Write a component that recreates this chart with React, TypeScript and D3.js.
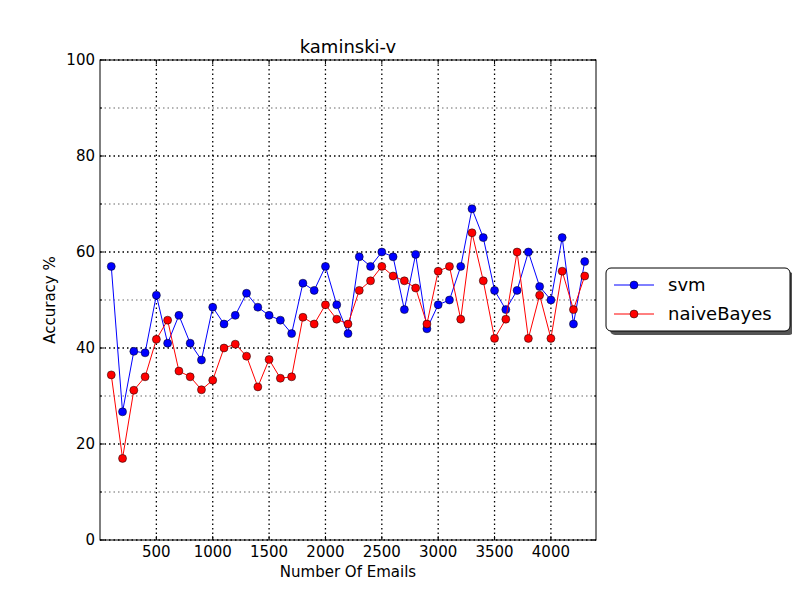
import React from 'react';
import * as d3 from 'd3';

const emails = d3.range(100, 4400, 100);
const svmAcc = [57, 26.7, 39.3, 39, 51, 41, 46.8, 41, 37.5, 48.5, 45, 46.8, 51.4, 48.5, 46.8, 45.8, 43, 53.5, 52, 57, 49, 43, 59, 57, 60, 59, 48, 59.5, 44, 49, 50, 57, 69, 63, 52, 48, 52, 60, 52.8, 50, 63, 45, 58];
const nbAcc = [34.4, 17, 31.2, 34, 41.8, 45.8, 35.2, 34, 31.3, 33.3, 40, 40.8, 38.3, 31.9, 37.6, 33.7, 34, 46.4, 45, 49, 46, 45, 52, 54, 57, 55, 54, 52.5, 45, 56, 57, 46, 64, 54, 42, 46, 60, 42, 51, 42, 56, 48, 55];
const xTicks = [500, 1000, 1500, 2000, 2500, 3000, 3500, 4000];
const yTicks = [0, 20, 40, 60, 80, 100];
const yMinor = [10, 30, 50, 70, 90];

const series = [
  { name: 'svm', values: svmAcc, color: '#0000ff' },
  { name: 'naiveBayes', values: nbAcc, color: '#ff0000' },
];

const L = 100, R = 596, T = 60, B = 540;

export default function App() {
  const x = d3.scaleLinear().domain([0, 4400]).range([L, R]);
  const y = d3.scaleLinear().domain([0, 100]).range([B, T]);
  const font = 'DejaVu Sans, sans-serif';

  return (
    <svg width={800} height={600} style={{ display: 'block', margin: -8 }} fontFamily={font}>
      <rect width={800} height={600} fill="#fff" />
      {/* grid */}
      {xTicks.map(t => (
        <line key={'gx' + t} x1={x(t)} x2={x(t)} y1={T} y2={B} stroke="#000" strokeWidth={1.3} strokeDasharray="1.5,3" />
      ))}
      {yTicks.map(t => (
        <line key={'gy' + t} x1={L} x2={R} y1={y(t)} y2={y(t)} stroke="#000" strokeWidth={1.3} strokeDasharray="1.5,3" />
      ))}
      {yMinor.map(t => (
        <line key={'gm' + t} x1={L} x2={R} y1={y(t)} y2={y(t)} stroke="#000" strokeWidth={0.6} strokeDasharray="1.5,3" />
      ))}
      {/* series */}
      {series.map(s => {
        const line = d3.line<number>().x((_, i) => x(emails[i])).y(d => y(d));
        return (
          <g key={s.name}>
            <path d={line(s.values) || ''} fill="none" stroke={s.color} strokeWidth={1} />
            {s.values.map((v, i) => (
              <circle key={i} cx={x(emails[i])} cy={y(v)} r={4} fill={s.color} stroke="#000" strokeWidth={0.5} />
            ))}
          </g>
        );
      })}
      {/* frame and ticks */}
      <rect x={L} y={T} width={R - L} height={B - T} fill="none" stroke="#000" strokeWidth={1} />
      {xTicks.map(t => (
        <g key={'tx' + t}>
          <line x1={x(t)} x2={x(t)} y1={B} y2={B - 4} stroke="#000" />
          <line x1={x(t)} x2={x(t)} y1={T} y2={T + 4} stroke="#000" />
          <text x={x(t)} y={B + 17} textAnchor="middle" fontSize={15}>{t}</text>
        </g>
      ))}
      {yTicks.map(t => (
        <g key={'ty' + t}>
          <line x1={L} x2={L + 4} y1={y(t)} y2={y(t)} stroke="#000" />
          <line x1={R} x2={R - 4} y1={y(t)} y2={y(t)} stroke="#000" />
          <text x={L - 5} y={y(t) + 5} textAnchor="end" fontSize={15}>{t}</text>
        </g>
      ))}
      {yMinor.map(t => (
        <g key={'tm' + t}>
          <line x1={L} x2={L + 2} y1={y(t)} y2={y(t)} stroke="#000" />
          <line x1={R} x2={R - 2} y1={y(t)} y2={y(t)} stroke="#000" />
        </g>
      ))}
      <text x={(L + R) / 2} y={53} textAnchor="middle" fontSize={18}>kaminski-v</text>
      <text x={(L + R) / 2} y={577} textAnchor="middle" fontSize={15}>Number Of Emails</text>
      <text transform={`translate(55,${(T + B) / 2}) rotate(-90)`} textAnchor="middle" fontSize={15}>Accuracy %</text>
      {/* legend */}
      <rect x={610} y={272} width={184} height={63} rx={5} fill="#555" />
      <rect x={606} y={268} width={184} height={63} rx={5} fill="#fff" stroke="#000" />
      {series.map((s, i) => {
        const ly = 285 + i * 29;
        return (
          <g key={'lg' + s.name}>
            <line x1={614} x2={654} y1={ly} y2={ly} stroke={s.color} />
            <circle cx={634} cy={ly} r={4} fill={s.color} stroke="#000" strokeWidth={0.5} />
            <text x={668} y={ly + 6} fontSize={18}>{s.name}</text>
          </g>
        );
      })}
    </svg>
  );
}
